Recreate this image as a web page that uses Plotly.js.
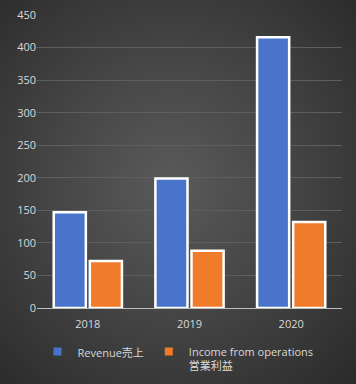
<!DOCTYPE html>
<html>
<head>
<meta charset="utf-8">
<script src="https://cdn.plot.ly/plotly-3.0.1.min.js"></script>
<style>
html,body{margin:0;padding:0;}
body{width:356px;height:384px;background:radial-gradient(ellipse at 48% 48%, #5a5a5a 0%, #484848 40%, #2a2a2a 100%);}
#chart{width:356px;height:384px;}
</style>
</head>
<body>
<div id="chart"></div>
<script>
const years = ['2018', '2019', '2020'];
const revenue = [147, 199, 416];
const income = [72, 88, 132];
const seriesNames = ['Revenue売上', 'Income from operations<br>営業利益'];
const seriesColors = ['#4a74cb', '#f07b2b'];

const traces = [
  {type:'bar', x: years, y: revenue, name: seriesNames[0], showlegend:false,
   marker:{color:seriesColors[0], line:{color:'#ffffff', width:2.5}}},
  {type:'bar', x: years, y: income, name: seriesNames[1], showlegend:false,
   marker:{color:seriesColors[1], line:{color:'#ffffff', width:2.5}}},
  {type:'scatter', mode:'markers', x:[null], y:[null], name: seriesNames[0],
   marker:{symbol:'square', size:8, color:seriesColors[0]}},
  {type:'scatter', mode:'markers', x:[null], y:[null], name: seriesNames[1],
   marker:{symbol:'square', size:8, color:seriesColors[1]}}
];
const layout = {
  width:356, height:384,
  paper_bgcolor:'rgba(0,0,0,0)', plot_bgcolor:'rgba(0,0,0,0)',
  margin:{l:37, r:14, t:15, b:76, autoexpand:false},
  font:{family:'"Open Sans","Noto Sans CJK JP",sans-serif', size:11, color:'#d9d9d9'},
  bargap:0.29, bargroupgap:0.11,
  xaxis:{type:'category', showgrid:false, showline:true, linecolor:'#bfbfbf', linewidth:1, ticks:'', ticklabelstandoff:6, tickfont:{size:11, color:'#d9d9d9'}, automargin:false},
  yaxis:{range:[0,450], dtick:50, showgrid:true, gridcolor:'#5e5e5e', gridwidth:1, zeroline:false, ticks:'', tickfont:{size:11, color:'#d9d9d9'}, automargin:false},
  showlegend:true,
  legend:{orientation:'h', x:0.5, xanchor:'center', xref:'container', yref:'container', y:0.12, yanchor:'top', valign:'top', font:{size:11, color:'#d9d9d9'}, itemwidth:30, tracegroupgap:0, bgcolor:'rgba(0,0,0,0)'}
};
Plotly.newPlot('chart', traces, layout, {displayModeBar:false, staticPlot:true});
</script>
</body>
</html>
